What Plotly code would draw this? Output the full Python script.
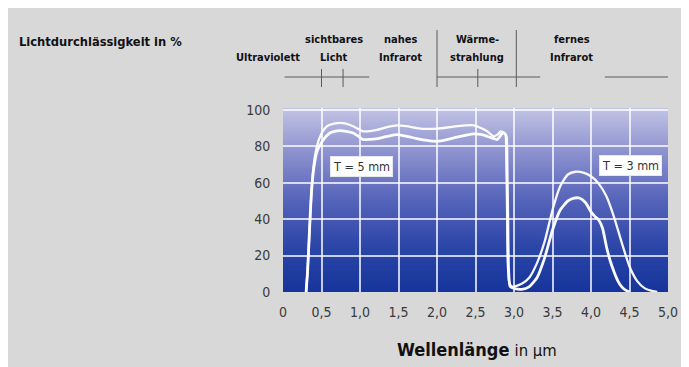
import plotly.graph_objects as go

# ---------------- data ----------------
upper_x = [0.30, 0.32, 0.34, 0.37, 0.40, 0.44, 0.50, 0.57, 0.65, 0.74, 0.83, 0.91, 1.04, 1.13, 1.22,
           1.35, 1.48, 1.60, 1.74, 1.87, 2.00, 2.13, 2.26, 2.37, 2.48, 2.57, 2.65, 2.74, 2.79, 2.83,
           2.87, 2.89, 2.90, 2.91, 2.92, 2.94, 2.97, 3.00, 3.10, 3.20, 3.30, 3.40, 3.50, 3.60, 3.70,
           3.80, 3.90, 4.00, 4.10, 4.20, 4.30, 4.40, 4.50, 4.60, 4.70, 4.80, 4.86]
upper_y = [0, 12, 30, 55, 70, 80, 87, 91, 92.3, 92.8, 92.3, 91, 88.2, 88.3, 89,
           90.5, 91.5, 91, 90, 89.5, 89.7, 90.3, 91, 91.5, 91.5, 90, 88.2, 85.5, 86.5, 88.2,
           87.5, 86.4, 75, 45, 15, 5, 3, 3, 4.5, 8, 16, 28, 45, 58, 64.5,
           66, 65.5, 63.5, 59.5, 52.5, 41, 27, 14, 6, 2, 0.5, 0]

lower_x = [0.30, 0.32, 0.34, 0.37, 0.40, 0.44, 0.50, 0.56, 0.61, 0.68, 0.74, 0.82, 0.91, 0.98, 1.04,
           1.13, 1.22, 1.35, 1.48, 1.60, 1.74, 1.87, 2.00, 2.13, 2.26, 2.37, 2.48, 2.57, 2.65, 2.72,
           2.78, 2.82, 2.85, 2.88, 2.90, 2.91, 2.92, 2.93, 2.95, 3.00, 3.10, 3.20, 3.30, 3.40, 3.50,
           3.60, 3.70, 3.78, 3.85, 3.93, 4.00, 4.05, 4.10, 4.15, 4.20, 4.25, 4.30, 4.35, 4.40, 4.45, 4.50]
lower_y = [0, 12, 30, 55, 68, 77, 82, 85.5, 87.3, 88.3, 88.6, 88.2, 87.3, 85.5, 83.7,
           83.8, 84.2, 85.4, 86.4, 85.5, 84.2, 83.2, 82.7, 83.6, 85, 86, 86.8, 86.5, 85.5, 84.5,
           83.7, 85.5, 87.3, 87, 85.5, 70, 40, 12, 3, 2, 1.5, 3, 8, 19, 34,
           45, 50, 51.5, 51.6, 49, 44, 41.5, 39.5, 35, 25, 17, 11, 6, 2.8, 1, 0]

x_tickvals = [0, 0.5, 1, 1.5, 2, 2.5, 3, 3.5, 4, 4.5, 5]
x_ticktext = ["0", "0,5", "1,0", "1,5", "2,0", "2,5", "3,0", "3,5", "4,0", "4,5", "5,0"]
y_tickvals = [0, 20, 40, 60, 80, 100]
y_ticktext = ["0", "20", "40", "60", "80", "100"]

curve_labels = ["T = 5 mm", "T = 3 mm"]
curve_label_x = [1.02, 4.51]
curve_label_y = [68.8, 69.7]

band_top = ["", "sichtbares", "nahes", "Wärme-", "fernes"]
band_bottom = ["Ultraviolett", "Licht", "Infrarot", "strahlung", "Infrarot"]
band_center = [-0.19, 0.66, 1.52, 2.52, 3.75]

# ---------------- figure ----------------
W, H = 689, 367
OFF = 8                     # page body margin
ML, MR, MT, MB = 275, 29, 100, 83
PW, PH = W - ML - MR, H - MT - MB
YMAX = 101

def sy(py):                 # screen y pixel -> paper y
    return (H - MB - (py - OFF)) / PH

def sx(px):                 # screen x pixel -> paper x
    return (px - OFF - ML) / PW

def xdata_to_paper(xv):
    return xv / 5.0

NARROW = "DejaVu Sans Condensed, Liberation Sans Narrow, Arial Narrow, sans-serif"

fig = go.Figure()

fig.add_trace(go.Scatter(x=upper_x, y=upper_y, mode="lines",
                         line=dict(color="rgba(255,255,255,0.95)", width=2.3, shape="spline", smoothing=0.6),
                         hoverinfo="skip", showlegend=False))
fig.add_trace(go.Scatter(x=lower_x, y=lower_y, mode="lines",
                         line=dict(color="rgba(255,255,255,0.97)", width=2.8, shape="spline", smoothing=0.6),
                         hoverinfo="skip", showlegend=False))

shapes = []
# vertical gradient of plot area, built from thin strips below the grid
stops = [(0.0, (22, 53, 155)), (0.25, (44, 70, 168)), (0.5, (86, 100, 186)),
         (0.75, (138, 144, 206)), (1.0, (194, 195, 228))]

def grad(t):
    for (t0, c0), (t1, c1) in zip(stops[:-1], stops[1:]):
        if t0 <= t <= t1:
            f = (t - t0) / (t1 - t0)
            return "rgb(%d,%d,%d)" % tuple(round(a + (b - a) * f) for a, b in zip(c0, c1))
    return "rgb(%d,%d,%d)" % stops[-1][1]

N = 100
for i in range(N):
    y0 = YMAX * i / N
    y1 = YMAX * (i + 1) / N
    shapes.append(dict(type="rect", xref="paper", yref="y", x0=0, x1=1, y0=y0, y1=min(YMAX, y1 + 0.6),
                       fillcolor=grad((i + 0.5) / N), line=dict(width=0), layer="below"))

# band marker lines above the chart
lc = dict(color="#5a5a5a", width=1)
yh = sy(77)
ylo = sy(87)
ytk = sy(69)
ylong = sy(30)
for xa, xb in [(0.02, 1.12), (2.0, 3.34), (4.18, 5.0)]:
    shapes.append(dict(type="line", xref="x", yref="paper", x0=xa, x1=xb, y0=yh, y1=yh, line=lc))
for xv in [0.5, 0.78, 2.53]:
    shapes.append(dict(type="line", xref="x", yref="paper", x0=xv, x1=xv, y0=ylo, y1=ytk, line=lc))
for xv in [2.0, 3.03]:
    shapes.append(dict(type="line", xref="x", yref="paper", x0=xv, x1=xv, y0=ylo, y1=ylong, line=lc))

annotations = []
annotations.append(dict(text="<b>Lichtdurchlässigkeit in %</b>", xref="paper", yref="paper",
                        x=sx(17), y=sy(41), xanchor="left", yanchor="middle",
                        showarrow=False, font=dict(family=NARROW, size=12.8, color="#111111")))
for top, bot, xc in zip(band_top, band_bottom, band_center):
    xp = xdata_to_paper(xc)
    if top:
        annotations.append(dict(text="<b>%s</b>" % top, xref="paper", yref="paper", x=xp, y=sy(40),
                                xanchor="center", yanchor="middle", showarrow=False,
                                font=dict(family=NARROW, size=11, color="#111111")))
    annotations.append(dict(text="<b>%s</b>" % bot, xref="paper", yref="paper", x=xp, y=sy(57),
                            xanchor="center", yanchor="middle", showarrow=False,
                            font=dict(family=NARROW, size=11, color="#111111")))
for t, xc, yc in zip(curve_labels, curve_label_x, curve_label_y):
    annotations.append(dict(text=t, xref="x", yref="y", x=xc, y=yc, showarrow=False,
                            bgcolor="white", bordercolor="#e8e8ee", borderwidth=1, borderpad=2,
                            font=dict(family=NARROW, size=12.5, color="#333333")))
annotations.append(dict(text="<b>Wellenlänge</b> <span style='font-size:16.5px'>in µm</span>",
                        xref="paper", yref="paper", x=sx(477), y=sy(349),
                        xanchor="center", yanchor="middle", showarrow=False,
                        font=dict(family=NARROW, size=18, color="#111111")))

tickfont = dict(family=NARROW, size=14, color="#3a3a3a")
fig.update_layout(
    width=W, height=H,
    margin=dict(l=ML, r=MR, t=MT, b=MB, pad=0),
    paper_bgcolor="#d8d8d8",
    plot_bgcolor="#5a66b8",
    shapes=shapes,
    annotations=annotations,
    showlegend=False,
    xaxis=dict(range=[0, 5], tickvals=x_tickvals, ticktext=x_ticktext, showgrid=True,
               gridcolor="rgba(255,255,255,0.75)", gridwidth=2, zeroline=False, showline=False,
               ticks="outside", ticklen=7, tickcolor="rgba(0,0,0,0)", tickfont=tickfont, fixedrange=True),
    yaxis=dict(range=[0, YMAX], tickvals=y_tickvals, ticktext=y_ticktext, showgrid=True,
               gridcolor="rgba(255,255,255,0.75)", gridwidth=2, zeroline=False, showline=False,
               ticks="outside", ticklen=9, tickcolor="rgba(0,0,0,0)", tickfont=tickfont, fixedrange=True),
)

fig.write_html("out.html")
